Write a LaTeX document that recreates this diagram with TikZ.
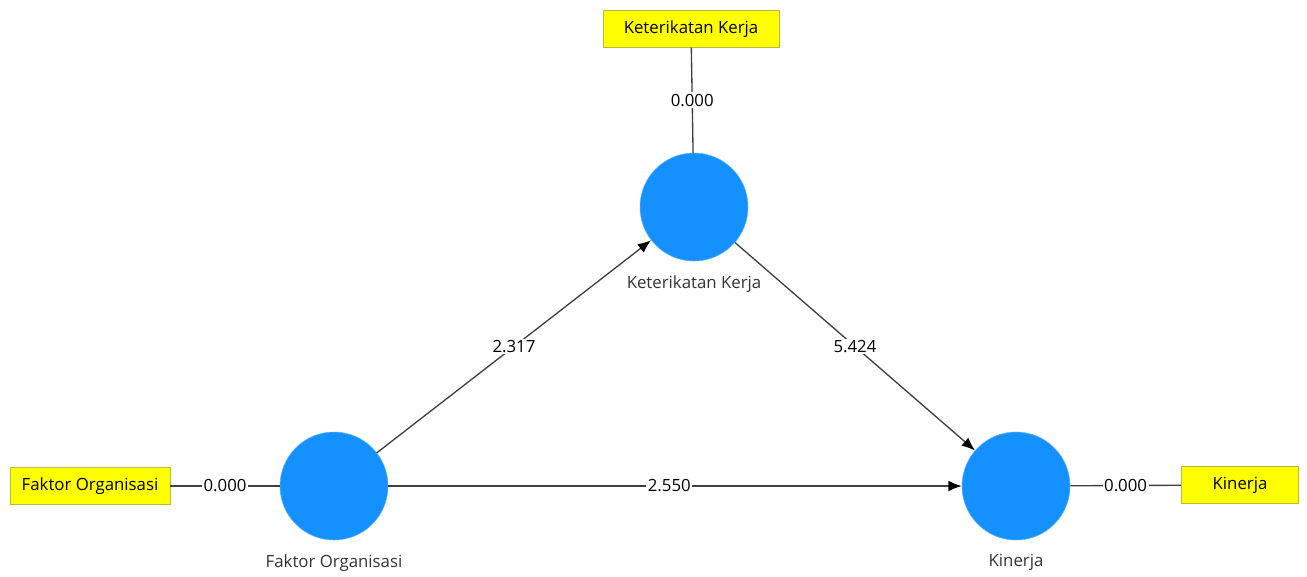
\documentclass[tikz,border=0pt]{standalone}
\usepackage{fontspec}
\setmainfont{Open Sans}
\usetikzlibrary{arrows.meta}
\definecolor{lvblue}{RGB}{21,145,255}
\definecolor{mvyellow}{RGB}{255,255,0}
\definecolor{mvedge}{RGB}{185,185,60}
\tikzset{
	latent/.style={circle, fill=lvblue, draw=lvblue!70!white, minimum size=81pt, inner sep=0pt},
	manifest/.style={rectangle, fill=mvyellow, draw=mvedge, line width=0.6pt, minimum height=27.5pt, inner sep=0pt, font=\fontsize{12.6}{15}\selectfont},
	caption/.style={text=black!80, font=\fontsize{12.6}{15}\selectfont},
	weight/.style={fill=white, inner sep=1.2pt, font=\fontsize{12.6}{15}\selectfont},
	link/.style={draw=black!75, line width=1pt},
	effect/.style={link, -{Latex[length=10pt, width=8pt, color=black]}}
}

\begin{document}
\begin{tikzpicture}[x=0.75pt, y=-0.75pt]
			%%%%% START %%%%%
			\useasboundingbox (0, 0) rectangle (1307, 576);
			
			% latent variables
			\node[latent] (kk) at (694, 207) {};
			\node[latent] (fo) at (334, 486) {};
			\node[latent] (kin) at (1016, 486) {};
			
			\node[caption] (kkcap) at (694, 284) {Keterikatan Kerja};
			\node[caption] (focap) at (334, 563) {Faktor Organisasi};
			\node[caption] (kincap) at (1016, 562) {Kinerja};
			
			% indicators
			\node[manifest, minimum width=132pt] (kkbox) at (691, 29) {Keterikatan Kerja};
			\node[manifest, minimum width=120pt] (fobox) at (90, 486) {Faktor Organisasi};
			\node[manifest, minimum width=88pt] (kinbox) at (1240, 485) {Kinerja};
			
			\draw[link] (kkbox) -- node[weight] {0.000} (kk);
			\draw[link] (fobox) -- node[weight] {0.000} (fo);
			\draw[link] (kin) -- node[weight] {0.000} (kinbox);
			
			% structural paths
			\draw[effect] (fo) -- node[weight] {2.317} (kk);
			\draw[effect] (kk) -- node[weight] {5.424} (kin);
			\draw[effect] (fo) -- node[weight, pos=0.49] {2.550} (kin);
			
			%%%%% END %%%%%
\end{tikzpicture}
\end{document}
